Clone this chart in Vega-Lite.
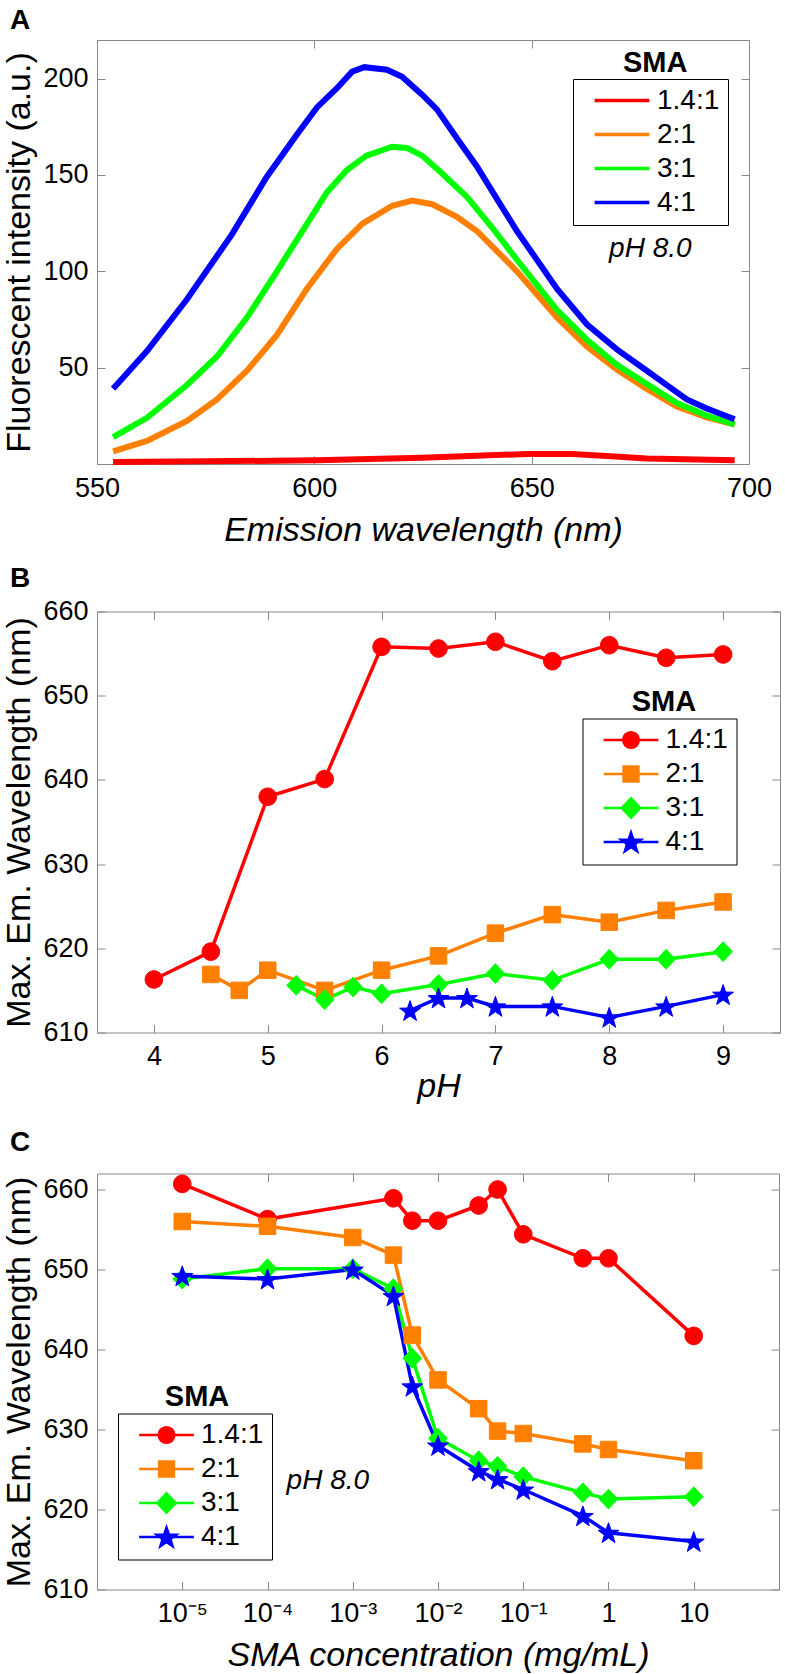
{
  "$schema": "https://vega.github.io/schema/vega-lite/v6.json",
  "background": "white",
  "padding": {"left": 2, "top": 6, "right": 0, "bottom": 0},
  "spacing": 15.5,
  "config": {
    "font": "Liberation Sans",
    "view": {"stroke": "#888888", "strokeWidth": 1},
    "axis": {"grid": false, "domain": false, "tickColor": "#888888", "tickSize": -8, "labelFont": "Liberation Sans", "labelFontSize": 27, "labelColor": "black", "titleFont": "Liberation Sans", "titleFontSize": 34, "titleFontWeight": "normal", "titleColor": "black", "labelPadding": 19, "labelFlush": false, "labelOverlap": false},
    "axisY": {"labelPadding": 17, "titlePadding": 6},
    "legend": {"labelFont": "Liberation Sans", "labelFontSize": 28, "labelColor": "black", "strokeColor": "black", "fillColor": "white", "padding": 8, "symbolSize": 3000, "clipHeight": 27, "symbolOffset": 11.5, "labelOffset": 5.5, "rowPadding": 5, "orient": "none", "title": null, "labelLimit": 0, "symbolStrokeWidth": 2.7},
    "title": {"font": "Liberation Sans", "fontSize": 28, "fontWeight": "bold", "color": "black", "anchor": "start", "frame": "bounds"}
  },
  "vconcat": [
    {
      "width": 652, "height": 424,
      "title": {"text": "A", "offset": 5, "dx": 7},
      "data": {"values": [
        {"wl": 553.7, "fi": 1.0, "r": "1.4:1"}, {"wl": 575, "fi": 1.4, "r": "1.4:1"}, {"wl": 600.6, "fi": 1.9, "r": "1.4:1"}, {"wl": 624.8, "fi": 3.3, "r": "1.4:1"}, {"wl": 649, "fi": 5.2, "r": "1.4:1"}, {"wl": 659.3, "fi": 5.2, "r": "1.4:1"}, {"wl": 667.3, "fi": 4.1, "r": "1.4:1"}, {"wl": 676.5, "fi": 2.8, "r": "1.4:1"}, {"wl": 696.7, "fi": 1.9, "r": "1.4:1"},
        {"wl": 553.7, "fi": 6.5, "r": "2:1"}, {"wl": 561.5, "fi": 12, "r": "2:1"}, {"wl": 570.7, "fi": 22.3, "r": "2:1"}, {"wl": 577.6, "fi": 33.5, "r": "2:1"}, {"wl": 584.5, "fi": 48.4, "r": "2:1"}, {"wl": 591.4, "fi": 67, "r": "2:1"}, {"wl": 598.3, "fi": 91, "r": "2:1"}, {"wl": 605.2, "fi": 111.6, "r": "2:1"}, {"wl": 611, "fi": 124.6, "r": "2:1"}, {"wl": 617.9, "fi": 134, "r": "2:1"}, {"wl": 622.5, "fi": 136.7, "r": "2:1"}, {"wl": 627.1, "fi": 134.8, "r": "2:1"}, {"wl": 632.8, "fi": 128.3, "r": "2:1"}, {"wl": 637.4, "fi": 120.9, "r": "2:1"}, {"wl": 642, "fi": 110.5, "r": "2:1"}, {"wl": 646.6, "fi": 100, "r": "2:1"}, {"wl": 651.2, "fi": 88, "r": "2:1"}, {"wl": 655.8, "fi": 76, "r": "2:1"}, {"wl": 662.7, "fi": 61, "r": "2:1"}, {"wl": 669.6, "fi": 49, "r": "2:1"}, {"wl": 676.5, "fi": 39, "r": "2:1"}, {"wl": 683.4, "fi": 29.8, "r": "2:1"}, {"wl": 690.3, "fi": 24.2, "r": "2:1"}, {"wl": 696.7, "fi": 20.5, "r": "2:1"},
        {"wl": 553.7, "fi": 14, "r": "3:1"}, {"wl": 561.5, "fi": 24, "r": "3:1"}, {"wl": 570.7, "fi": 41, "r": "3:1"}, {"wl": 577.6, "fi": 55.8, "r": "3:1"}, {"wl": 584.5, "fi": 76, "r": "3:1"}, {"wl": 591.4, "fi": 100, "r": "3:1"}, {"wl": 598.3, "fi": 124.6, "r": "3:1"}, {"wl": 602.9, "fi": 141, "r": "3:1"}, {"wl": 607.5, "fi": 152.5, "r": "3:1"}, {"wl": 612, "fi": 160, "r": "3:1"}, {"wl": 617.9, "fi": 164.6, "r": "3:1"}, {"wl": 621.3, "fi": 164, "r": "3:1"}, {"wl": 624.8, "fi": 160, "r": "3:1"}, {"wl": 629.4, "fi": 150.7, "r": "3:1"}, {"wl": 635.1, "fi": 138.6, "r": "3:1"}, {"wl": 640.9, "fi": 122.7, "r": "3:1"}, {"wl": 646.6, "fi": 106, "r": "3:1"}, {"wl": 651.2, "fi": 93, "r": "3:1"}, {"wl": 655.8, "fi": 80, "r": "3:1"}, {"wl": 662.7, "fi": 64.5, "r": "3:1"}, {"wl": 669.6, "fi": 51.5, "r": "3:1"}, {"wl": 676.5, "fi": 41.5, "r": "3:1"}, {"wl": 683.4, "fi": 31.6, "r": "3:1"}, {"wl": 690.3, "fi": 25.1, "r": "3:1"}, {"wl": 696.7, "fi": 20.5, "r": "3:1"},
        {"wl": 553.7, "fi": 39, "r": "4:1"}, {"wl": 561.5, "fi": 58.6, "r": "4:1"}, {"wl": 570.7, "fi": 85.5, "r": "4:1"}, {"wl": 581, "fi": 119, "r": "4:1"}, {"wl": 589, "fi": 148.8, "r": "4:1"}, {"wl": 596, "fi": 171, "r": "4:1"}, {"wl": 600.6, "fi": 185, "r": "4:1"}, {"wl": 605.2, "fi": 195, "r": "4:1"}, {"wl": 608.7, "fi": 203.6, "r": "4:1"}, {"wl": 611.5, "fi": 205.9, "r": "4:1"}, {"wl": 616.7, "fi": 204.6, "r": "4:1"}, {"wl": 620.2, "fi": 200.9, "r": "4:1"}, {"wl": 624.8, "fi": 191.6, "r": "4:1"}, {"wl": 628.2, "fi": 184, "r": "4:1"}, {"wl": 632.8, "fi": 169, "r": "4:1"}, {"wl": 637.4, "fi": 154.4, "r": "4:1"}, {"wl": 642, "fi": 137.6, "r": "4:1"}, {"wl": 646.6, "fi": 120.9, "r": "4:1"}, {"wl": 651.2, "fi": 106, "r": "4:1"}, {"wl": 655.8, "fi": 91, "r": "4:1"}, {"wl": 662.7, "fi": 72.5, "r": "4:1"}, {"wl": 669.6, "fi": 59.5, "r": "4:1"}, {"wl": 676.5, "fi": 48.4, "r": "4:1"}, {"wl": 681.1, "fi": 40.9, "r": "4:1"}, {"wl": 685.7, "fi": 33.5, "r": "4:1"}, {"wl": 690.3, "fi": 28.8, "r": "4:1"}, {"wl": 696.7, "fi": 23.2, "r": "4:1"}
      ]},
      "layer": [
        {
          "mark": {"type": "line", "strokeWidth": 6},
          "encoding": {
            "x": {"field": "wl", "type": "quantitative", "scale": {"domain": [550, 700], "nice": false, "zero": false}, "axis": {"title": "Emission wavelength (nm)", "titleFontStyle": "italic", "values": [550, 600, 650, 700], "titlePadding": 12}},
            "y": {"field": "fi", "type": "quantitative", "scale": {"domain": [0, 220], "nice": false}, "axis": {"title": "Fluorescent intensity (a.u.)", "values": [50, 100, 150, 200]}},
            "color": {"field": "r", "type": "nominal", "scale": {"domain": ["1.4:1", "2:1", "3:1", "4:1"], "range": ["#ff0000", "#ff8000", "#00ff00", "#0000ff"]},
              "legend": {"legendX": 476, "legendY": 39, "symbolStrokeWidth": 3.3,
                "encode": {"symbols": {"update": {
                  "shape": {"value": "M-1,0H1"},
                  "fill": {"value": "transparent"},
                  "stroke": {"signal": "datum.value === '1.4:1' ? '#ff0000' : datum.value === '2:1' ? '#ff8000' : datum.value === '3:1' ? '#00ff00' : '#0000ff'"},
                  "strokeWidth": {"value": 3.3}, "opacity": {"value": 1}, "strokeOpacity": {"value": 1}}}}}}
          }
        },
        {
          "mark": {"type": "point", "opacity": 0},
          "encoding": {
            "x": {"field": "wl", "type": "quantitative", "axis": {"orient": "top", "labels": false, "title": null, "values": [550, 600, 650, 700]}},
            "y": {"field": "fi", "type": "quantitative", "axis": {"orient": "right", "labels": false, "title": null, "values": [50, 100, 150, 200]}}
          }
        },
        {
          "data": {"values": [{"wl": 678.4, "fi": 208.2, "t": "SMA"}]},
          "mark": {"type": "text", "fontSize": 29, "fontWeight": "bold", "font": "Liberation Sans", "baseline": "middle", "align": "center", "color": "black"},
          "encoding": {"x": {"field": "wl", "type": "quantitative", "axis": null}, "y": {"field": "fi", "type": "quantitative", "axis": null}, "text": {"field": "t"}}
        },
        {
          "data": {"values": [{"wl": 677.3, "fi": 111.6, "t": "pH 8.0"}]},
          "mark": {"type": "text", "fontSize": 28, "fontStyle": "italic", "font": "Liberation Sans", "baseline": "middle", "align": "center", "color": "black"},
          "encoding": {"x": {"field": "wl", "type": "quantitative", "axis": null}, "y": {"field": "fi", "type": "quantitative", "axis": null}, "text": {"field": "t"}}
        }
      ],
      "resolve": {"axis": {"x": "independent", "y": "independent"}}
    },
    {
      "spacing": 24,
      "vconcat": [
        {
          "width": 683, "height": 421,
          "title": {"text": "B", "offset": 5, "dx": 7},
          "data": {"values": [
            {"ph": 4, "w": 616.3, "r": "1.4:1"}, {"ph": 4.5, "w": 619.6, "r": "1.4:1"}, {"ph": 5, "w": 638, "r": "1.4:1"}, {"ph": 5.5, "w": 640.1, "r": "1.4:1"}, {"ph": 6, "w": 655.8, "r": "1.4:1"}, {"ph": 6.5, "w": 655.6, "r": "1.4:1"}, {"ph": 7, "w": 656.4, "r": "1.4:1"}, {"ph": 7.5, "w": 654.1, "r": "1.4:1"}, {"ph": 8, "w": 656, "r": "1.4:1"}, {"ph": 8.5, "w": 654.5, "r": "1.4:1"}, {"ph": 9, "w": 654.9, "r": "1.4:1"},
            {"ph": 4.5, "w": 616.9, "r": "2:1"}, {"ph": 4.75, "w": 615, "r": "2:1"}, {"ph": 5, "w": 617.4, "r": "2:1"}, {"ph": 5.5, "w": 615, "r": "2:1"}, {"ph": 6, "w": 617.4, "r": "2:1"}, {"ph": 6.5, "w": 619.1, "r": "2:1"}, {"ph": 7, "w": 621.8, "r": "2:1"}, {"ph": 7.5, "w": 624, "r": "2:1"}, {"ph": 8, "w": 623.1, "r": "2:1"}, {"ph": 8.5, "w": 624.5, "r": "2:1"}, {"ph": 9, "w": 625.5, "r": "2:1"},
            {"ph": 5.25, "w": 615.6, "r": "3:1"}, {"ph": 5.5, "w": 613.9, "r": "3:1"}, {"ph": 5.75, "w": 615.4, "r": "3:1"}, {"ph": 6, "w": 614.6, "r": "3:1"}, {"ph": 6.5, "w": 615.7, "r": "3:1"}, {"ph": 7, "w": 617, "r": "3:1"}, {"ph": 7.5, "w": 616.2, "r": "3:1"}, {"ph": 8, "w": 618.7, "r": "3:1"}, {"ph": 8.5, "w": 618.7, "r": "3:1"}, {"ph": 9, "w": 619.6, "r": "3:1"},
            {"ph": 6.25, "w": 612.6, "r": "4:1"}, {"ph": 6.5, "w": 614.1, "r": "4:1"}, {"ph": 6.75, "w": 614.1, "r": "4:1"}, {"ph": 7, "w": 613.1, "r": "4:1"}, {"ph": 7.5, "w": 613.1, "r": "4:1"}, {"ph": 8, "w": 611.8, "r": "4:1"}, {"ph": 8.5, "w": 613.1, "r": "4:1"}, {"ph": 9, "w": 614.5, "r": "4:1"}
          ]},
          "layer": [
            {
              "mark": {"type": "line", "strokeWidth": 3.5},
              "encoding": {
                "x": {"field": "ph", "type": "quantitative", "scale": {"domain": [3.5, 9.5], "nice": false, "zero": false}, "axis": {"title": "pH", "titleFontStyle": "italic", "values": [4, 5, 6, 7, 8, 9], "titlePadding": 0}},
                "y": {"field": "w", "type": "quantitative", "scale": {"domain": [610, 660], "nice": false, "zero": false}, "axis": {"title": "Max. Em. Wavelength (nm)", "values": [610, 620, 630, 640, 650, 660]}},
                "color": {"field": "r", "type": "nominal", "scale": {"domain": ["1.4:1", "2:1", "3:1", "4:1"], "range": ["#ff0000", "#ff8000", "#00ff00", "#0000ff"]},
                  "legend": {"legendX": 485.5, "legendY": 107,
                    "encode": {"symbols": {"update": {
                      "shape": {"signal": "datum.value === '1.4:1' ? 'M-1,0H1M-0.283,0A0.283,0.283,0,1,1,0.283,0A0.283,0.283,0,1,1,-0.283,0Z' : datum.value === '2:1' ? 'M-1,0H1M-0.267,-0.267H0.267V0.267H-0.267Z' : datum.value === '3:1' ? 'M-1,0H1M0,-0.35L0.333,0L0,0.35L-0.333,0Z' : 'M-1,0H1M0,-0.334L0.086,-0.086L0.349,-0.08L0.14,0.078L0.216,0.33L0,0.18L-0.216,0.33L-0.14,0.078L-0.349,-0.08L-0.086,-0.086Z'"},
                      "fill": {"signal": "datum.value === '1.4:1' ? '#ff0000' : datum.value === '2:1' ? '#ff8000' : datum.value === '3:1' ? '#00ff00' : '#0000ff'"},
                      "stroke": {"signal": "datum.value === '1.4:1' ? '#ff0000' : datum.value === '2:1' ? '#ff8000' : datum.value === '3:1' ? '#00ff00' : '#0000ff'"},
                      "strokeWidth": {"value": 2.7}, "opacity": {"value": 1}, "fillOpacity": {"value": 1}, "strokeOpacity": {"value": 1}}}}}}
              }
            },
            {
              "transform": [{"filter": "datum.r === '1.4:1'"}],
              "mark": {"type": "point", "filled": true, "opacity": 1, "color": "#ff0000", "stroke": "#ff0000", "strokeWidth": 1, "size": 484, "shape": "M-0.8,0A0.8,0.8,0,1,1,0.8,0A0.8,0.8,0,1,1,-0.8,0Z"},
              "encoding": {
                "x": {"field": "ph", "type": "quantitative", "axis": {"orient": "top", "labels": false, "title": null, "values": [4, 5, 6, 7, 8, 9]}},
                "y": {"field": "w", "type": "quantitative", "axis": {"orient": "right", "labels": false, "title": null, "values": [610, 620, 630, 640, 650, 660]}}
              }
            },
            {
              "transform": [{"filter": "datum.r === '2:1'"}],
              "mark": {"type": "point", "filled": true, "opacity": 1, "color": "#ff8000", "stroke": "#ff8000", "strokeWidth": 1, "size": 484, "shape": "M-0.75,-0.75H0.75V0.75H-0.75Z"},
              "encoding": {"x": {"field": "ph", "type": "quantitative", "axis": null}, "y": {"field": "w", "type": "quantitative", "axis": null}}
            },
            {
              "transform": [{"filter": "datum.r === '3:1'"}],
              "mark": {"type": "point", "filled": true, "opacity": 1, "color": "#00ff00", "stroke": "#00ff00", "strokeWidth": 1, "size": 484, "shape": "M0,-0.9L0.85,0L0,0.9L-0.85,0Z"},
              "encoding": {"x": {"field": "ph", "type": "quantitative", "axis": null}, "y": {"field": "w", "type": "quantitative", "axis": null}}
            },
            {
              "transform": [{"filter": "datum.r === '4:1'"}],
              "mark": {"type": "point", "filled": true, "opacity": 1, "color": "#0000ff", "stroke": "#0000ff", "strokeWidth": 1, "size": 484, "shape": "M0,-0.91L0.235,-0.234L0.951,-0.219L0.38,0.214L0.588,0.899L0,0.49L-0.588,0.899L-0.38,0.214L-0.951,-0.219L-0.235,-0.234Z"},
              "encoding": {"x": {"field": "ph", "type": "quantitative", "axis": null}, "y": {"field": "w", "type": "quantitative", "axis": null}}
            },
            {
              "data": {"values": [{"ph": 8.48, "w": 649.3, "t": "SMA"}]},
              "mark": {"type": "text", "fontSize": 29, "fontWeight": "bold", "font": "Liberation Sans", "baseline": "middle", "align": "center", "color": "black"},
              "encoding": {"x": {"field": "ph", "type": "quantitative", "axis": null}, "y": {"field": "w", "type": "quantitative", "axis": null}, "text": {"field": "t"}}
            }
          ],
          "resolve": {"axis": {"x": "independent", "y": "independent"}}
        },
        {
          "width": 682, "height": 416,
          "title": {"text": "C", "offset": 16, "dx": 7},
          "data": {"values": [
            {"c": 0.00001, "w": 660.7, "r": "1.4:1"}, {"c": 0.0001, "w": 656.3, "r": "1.4:1"}, {"c": 0.003, "w": 658.9, "r": "1.4:1"}, {"c": 0.005, "w": 656.1, "r": "1.4:1"}, {"c": 0.01, "w": 656.1, "r": "1.4:1"}, {"c": 0.03, "w": 658, "r": "1.4:1"}, {"c": 0.05, "w": 660, "r": "1.4:1"}, {"c": 0.1, "w": 654.4, "r": "1.4:1"}, {"c": 0.5, "w": 651.4, "r": "1.4:1"}, {"c": 1, "w": 651.4, "r": "1.4:1"}, {"c": 10, "w": 641.7, "r": "1.4:1"},
            {"c": 0.00001, "w": 656, "r": "2:1"}, {"c": 0.0001, "w": 655.4, "r": "2:1"}, {"c": 0.001, "w": 654, "r": "2:1"}, {"c": 0.003, "w": 651.8, "r": "2:1"}, {"c": 0.005, "w": 641.8, "r": "2:1"}, {"c": 0.01, "w": 636.2, "r": "2:1"}, {"c": 0.03, "w": 632.6, "r": "2:1"}, {"c": 0.05, "w": 629.8, "r": "2:1"}, {"c": 0.1, "w": 629.5, "r": "2:1"}, {"c": 0.5, "w": 628.2, "r": "2:1"}, {"c": 1, "w": 627.5, "r": "2:1"}, {"c": 10, "w": 626.1, "r": "2:1"},
            {"c": 0.00001, "w": 648.8, "r": "3:1"}, {"c": 0.0001, "w": 650.1, "r": "3:1"}, {"c": 0.001, "w": 650.1, "r": "3:1"}, {"c": 0.003, "w": 647.6, "r": "3:1"}, {"c": 0.005, "w": 638.9, "r": "3:1"}, {"c": 0.01, "w": 628.9, "r": "3:1"}, {"c": 0.03, "w": 626.1, "r": "3:1"}, {"c": 0.05, "w": 625.4, "r": "3:1"}, {"c": 0.1, "w": 624.1, "r": "3:1"}, {"c": 0.5, "w": 622.1, "r": "3:1"}, {"c": 1, "w": 621.3, "r": "3:1"}, {"c": 10, "w": 621.6, "r": "3:1"},
            {"c": 0.00001, "w": 649.2, "r": "4:1"}, {"c": 0.0001, "w": 648.8, "r": "4:1"}, {"c": 0.001, "w": 650, "r": "4:1"}, {"c": 0.003, "w": 646.7, "r": "4:1"}, {"c": 0.005, "w": 635.4, "r": "4:1"}, {"c": 0.01, "w": 628, "r": "4:1"}, {"c": 0.03, "w": 624.8, "r": "4:1"}, {"c": 0.05, "w": 623.8, "r": "4:1"}, {"c": 0.1, "w": 622.5, "r": "4:1"}, {"c": 0.5, "w": 619.2, "r": "4:1"}, {"c": 1, "w": 617.1, "r": "4:1"}, {"c": 10, "w": 616, "r": "4:1"}
          ]},
          "layer": [
            {
              "mark": {"type": "line", "strokeWidth": 3.5},
              "encoding": {
                "x": {"field": "c", "type": "quantitative", "scale": {"type": "log", "domain": [0.000001, 100], "nice": false}, "axis": {"title": "SMA concentration (mg/mL)", "titleFontStyle": "italic", "values": [0.00001, 0.0001, 0.001, 0.01, 0.1, 1, 10], "labelExpr": "datum.value >= 5 ? '10' : datum.value >= 0.5 ? '1' : datum.value >= 0.05 ? '10⁻¹' : datum.value >= 0.005 ? '10⁻²' : datum.value >= 0.0005 ? '10⁻³' : datum.value >= 0.00005 ? '10⁻⁴' : '10⁻⁵'", "labelPadding": 18.5, "titlePadding": 12}},
                "y": {"field": "w", "type": "quantitative", "scale": {"domain": [610, 662], "nice": false, "zero": false}, "axis": {"title": "Max. Em. Wavelength (nm)", "values": [610, 620, 630, 640, 650, 660]}},
                "color": {"field": "r", "type": "nominal", "scale": {"domain": ["1.4:1", "2:1", "3:1", "4:1"], "range": ["#ff0000", "#ff8000", "#00ff00", "#0000ff"]},
                  "legend": {"legendX": 21, "legendY": 240,
                    "encode": {"symbols": {"update": {
                      "shape": {"signal": "datum.value === '1.4:1' ? 'M-1,0H1M-0.283,0A0.283,0.283,0,1,1,0.283,0A0.283,0.283,0,1,1,-0.283,0Z' : datum.value === '2:1' ? 'M-1,0H1M-0.267,-0.267H0.267V0.267H-0.267Z' : datum.value === '3:1' ? 'M-1,0H1M0,-0.35L0.333,0L0,0.35L-0.333,0Z' : 'M-1,0H1M0,-0.334L0.086,-0.086L0.349,-0.08L0.14,0.078L0.216,0.33L0,0.18L-0.216,0.33L-0.14,0.078L-0.349,-0.08L-0.086,-0.086Z'"},
                      "fill": {"signal": "datum.value === '1.4:1' ? '#ff0000' : datum.value === '2:1' ? '#ff8000' : datum.value === '3:1' ? '#00ff00' : '#0000ff'"},
                      "stroke": {"signal": "datum.value === '1.4:1' ? '#ff0000' : datum.value === '2:1' ? '#ff8000' : datum.value === '3:1' ? '#00ff00' : '#0000ff'"},
                      "strokeWidth": {"value": 2.7}, "opacity": {"value": 1}, "fillOpacity": {"value": 1}, "strokeOpacity": {"value": 1}}}}}}
              }
            },
            {
              "transform": [{"filter": "datum.r === '1.4:1'"}],
              "mark": {"type": "point", "filled": true, "opacity": 1, "color": "#ff0000", "stroke": "#ff0000", "strokeWidth": 1, "size": 484, "shape": "M-0.8,0A0.8,0.8,0,1,1,0.8,0A0.8,0.8,0,1,1,-0.8,0Z"},
              "encoding": {
                "x": {"field": "c", "type": "quantitative", "axis": {"orient": "top", "labels": false, "title": null, "values": [0.00001, 0.0001, 0.001, 0.01, 0.1, 1, 10]}},
                "y": {"field": "w", "type": "quantitative", "axis": {"orient": "right", "labels": false, "title": null, "values": [610, 620, 630, 640, 650, 660]}}
              }
            },
            {
              "transform": [{"filter": "datum.r === '2:1'"}],
              "mark": {"type": "point", "filled": true, "opacity": 1, "color": "#ff8000", "stroke": "#ff8000", "strokeWidth": 1, "size": 484, "shape": "M-0.75,-0.75H0.75V0.75H-0.75Z"},
              "encoding": {"x": {"field": "c", "type": "quantitative", "axis": null}, "y": {"field": "w", "type": "quantitative", "axis": null}}
            },
            {
              "transform": [{"filter": "datum.r === '3:1'"}],
              "mark": {"type": "point", "filled": true, "opacity": 1, "color": "#00ff00", "stroke": "#00ff00", "strokeWidth": 1, "size": 484, "shape": "M0,-0.9L0.85,0L0,0.9L-0.85,0Z"},
              "encoding": {"x": {"field": "c", "type": "quantitative", "axis": null}, "y": {"field": "w", "type": "quantitative", "axis": null}}
            },
            {
              "transform": [{"filter": "datum.r === '4:1'"}],
              "mark": {"type": "point", "filled": true, "opacity": 1, "color": "#0000ff", "stroke": "#0000ff", "strokeWidth": 1, "size": 484, "shape": "M0,-0.91L0.235,-0.234L0.951,-0.219L0.38,0.214L0.588,0.899L0,0.49L-0.588,0.899L-0.38,0.214L-0.951,-0.219L-0.235,-0.234Z"},
              "encoding": {"x": {"field": "c", "type": "quantitative", "axis": null}, "y": {"field": "w", "type": "quantitative", "axis": null}}
            },
            {
              "data": {"values": [{"c": 0.0000149, "w": 634.1, "t": "SMA"}]},
              "mark": {"type": "text", "fontSize": 29, "fontWeight": "bold", "font": "Liberation Sans", "baseline": "middle", "align": "center", "color": "black"},
              "encoding": {"x": {"field": "c", "type": "quantitative", "axis": null}, "y": {"field": "w", "type": "quantitative", "axis": null}, "text": {"field": "t"}}
            },
            {
              "data": {"values": [{"c": 0.00051, "w": 623.6, "t": "pH 8.0"}]},
              "mark": {"type": "text", "fontSize": 28, "fontStyle": "italic", "font": "Liberation Sans", "baseline": "middle", "align": "center", "color": "black"},
              "encoding": {"x": {"field": "c", "type": "quantitative", "axis": null}, "y": {"field": "w", "type": "quantitative", "axis": null}, "text": {"field": "t"}}
            }
          ],
          "resolve": {"axis": {"x": "independent", "y": "independent"}}
        }
      ],
      "resolve": {"scale": {"color": "independent"}, "legend": {"color": "independent"}}
    }
  ],
  "resolve": {"scale": {"color": "independent"}, "legend": {"color": "independent"}}
}
